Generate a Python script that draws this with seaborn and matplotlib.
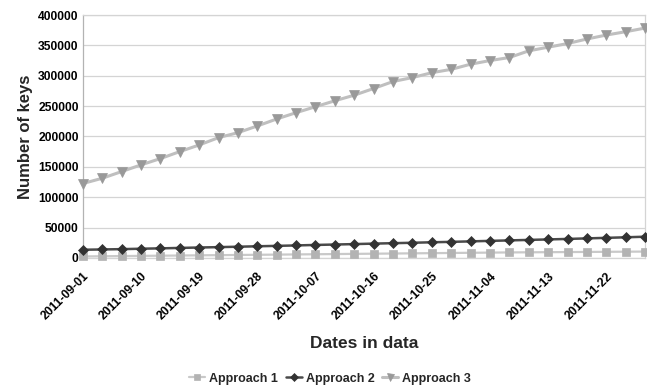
import matplotlib
matplotlib.use("Agg")
from matplotlib import pyplot as plt
import numpy as np
import pandas as pd
import seaborn as sb

# sample dates (every ~3 days) and key counts per approach
dates = ["2011-09-01", "2011-09-04", "2011-09-07", "2011-09-10", "2011-09-13",
         "2011-09-16", "2011-09-19", "2011-09-22", "2011-09-25", "2011-09-28",
         "2011-10-01", "2011-10-04", "2011-10-07", "2011-10-10", "2011-10-13",
         "2011-10-16", "2011-10-19", "2011-10-22", "2011-10-25", "2011-10-28",
         "2011-11-01", "2011-11-04", "2011-11-07", "2011-11-10", "2011-11-13",
         "2011-11-16", "2011-11-19", "2011-11-22", "2011-11-25", "2011-11-28"]

approach1 = [2500, 2800, 3100, 3400, 3700, 4000, 4300, 4600, 4900, 5200,
             5500, 5800, 6100, 6400, 6700, 7000, 7300, 7600, 7900, 8200,
             8500, 8800, 9100, 9300, 9500, 9700, 9900, 10100, 10300, 10500]
approach2 = [13500, 14000, 14500, 15200, 15800, 16500, 17200, 17800, 18500, 19200,
             19900, 20600, 21400, 22100, 22800, 23600, 24300, 25000, 25800, 26500,
             27300, 28100, 28900, 29700, 30500, 31300, 32200, 33100, 34000, 35000]
approach3 = [122500, 131200, 142200, 153200, 163600, 175100, 186000, 198100, 206300, 217300,
             228800, 239200, 249000, 258800, 268000, 279000, 290500, 297000, 305000, 310500,
             319000, 325000, 330000, 341000, 347000, 353000, 360500, 367000, 372500, 378500]

yticks = [0, 50000, 100000, 150000, 200000, 250000, 300000, 350000, 400000]

df = pd.DataFrame({"pos": np.arange(len(dates)), "date": dates,
                   "Approach 1": approach1, "Approach 2": approach2, "Approach 3": approach3})

sb.set_theme(style="white")
plt.rcParams['font.family'] = ['Liberation Sans', 'DejaVu Sans']
plt.rcParams['font.weight'] = 'bold'

fig, ax = plt.subplots(figsize=(6.47, 3.85), dpi=100)
fig.subplots_adjust(left=0.128, right=0.997, top=0.961, bottom=0.330)

styles = {
    "Approach 1": dict(line="#c9c9c9", mark="#b3b3b3", marker="s", ms=6.3, lw=1.6),
    "Approach 2": dict(line="#4a4a4a", mark="#333333", marker="D", ms=5.2, lw=1.8),
    "Approach 3": dict(line="#bfbfbf", mark="#999999", marker="v", ms=7.2, lw=2.2),
}
for name, st in styles.items():
    sb.lineplot(data=df, x="pos", y=name, ax=ax, color=st["line"], lw=st["lw"],
                marker=st["marker"], markersize=st["ms"], markerfacecolor=st["mark"],
                markeredgecolor=st["mark"], markeredgewidth=0.5, label=name,
                clip_on=False, zorder=3)

ax.set_xlim(0, len(dates) - 1)
ax.set_ylim(0, 400000)
ax.set_yticks(yticks)
ax.set_yticklabels([str(v) for v in yticks], fontsize=8.7, fontweight="bold")
ax.set_xticks(df["pos"][::3])
ax.set_xticklabels(df["date"][::3], rotation=45, ha="right", rotation_mode="anchor",
                   fontsize=8.7, fontweight="bold")
ax.tick_params(axis="y", length=0, pad=3, colors="black")
ax.tick_params(axis="x", length=0, pad=9, colors="black")
ax.grid(axis="y", color="#d4d4d4", lw=0.9)
for s in ax.spines.values():
    s.set_color("#d4d4d4")
    s.set_linewidth(0.9)
ax.spines["left"].set_color("#b3b3b3")

ax.set_ylabel("Number of keys", fontsize=12, fontweight="bold", labelpad=4)
ax.set_xlabel("Dates in data", fontsize=12.5, fontweight="bold", labelpad=10)

ax.get_legend().remove()
h, l = ax.get_legend_handles_labels()
fig.legend(h, l, loc="lower center", bbox_to_anchor=(0.51, -0.028), ncol=3, frameon=False,
           handlelength=1.3, handletextpad=0.3, columnspacing=0.6, markerscale=0.7,
           prop={"weight": "bold", "size": 9})

fig.savefig("out.png", dpi=100)
